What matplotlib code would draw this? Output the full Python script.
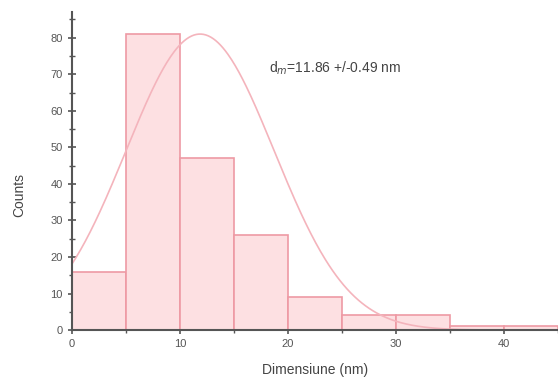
import numpy as np
import matplotlib
matplotlib.use("Agg")
import matplotlib.pyplot as plt
from matplotlib.ticker import MultipleLocator

plt.rcParams['font.family'] = ['Liberation Sans', 'DejaVu Sans']

# histogram bins (nm) and counts
bin_edges = [0, 5, 10, 15, 20, 25, 30, 35, 40, 45]
counts = [16, 81, 47, 26, 9, 4, 4, 1, 1]

# gaussian fit parameters
fit_mean = 11.86
fit_sigma = 6.85
fit_peak = 81

fig = plt.figure(figsize=(5.58, 3.79), dpi=100)
ax = fig.add_axes([0.129, 0.129, 0.871, 0.839])

lefts = bin_edges[:-1]
widths = np.diff(bin_edges)
ax.bar(lefts, counts, width=widths, align="edge",
       color="#fde0e2", edgecolor="#ee9aa4", linewidth=1.2, zorder=2)

x = np.linspace(0, 45, 400)
y = fit_peak * np.exp(-(x - fit_mean) ** 2 / (2 * fit_sigma ** 2))
ax.plot(x, y, color="#f4b4bc", linewidth=1.2, zorder=3)

ax.text(0.405, 0.824, r"d$_m$=11.86 +/-0.49 nm", transform=ax.transAxes,
        fontsize=10, color="#444444", va="center")

ax.set_xlim(0, 45)
ax.set_ylim(0, 87)
ax.xaxis.set_major_locator(MultipleLocator(10))
ax.xaxis.set_minor_locator(MultipleLocator(5))
ax.yaxis.set_major_locator(MultipleLocator(10))
ax.yaxis.set_minor_locator(MultipleLocator(5))
ax.tick_params(which="both", direction="inout", colors="#555555",
               labelsize=8, labelcolor="#555555")
ax.tick_params(which="major", length=6, width=1.2)
ax.tick_params(which="minor", length=4, width=1.0)

for side in ["top", "right"]:
    ax.spines[side].set_visible(False)
for side in ["left", "bottom"]:
    ax.spines[side].set_color("#555555")
    ax.spines[side].set_linewidth(1.5)
    ax.spines[side].set_zorder(4)

ax.set_xlabel("Dimensiune (nm)", fontsize=10, color="#444444", labelpad=10)
ax.set_ylabel("Counts", fontsize=10, color="#444444", labelpad=14)
ax.yaxis.set_label_coords(-0.095, 0.425)

fig.savefig("out.png", dpi=100)
